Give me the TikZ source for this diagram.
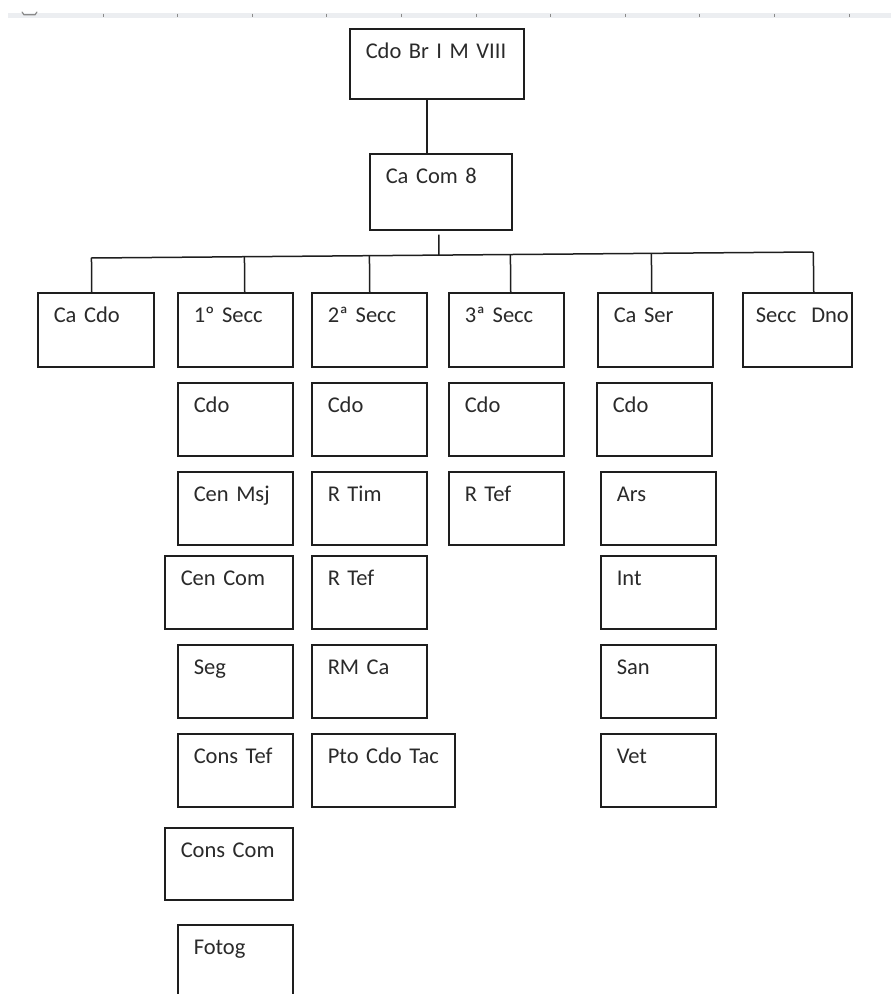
\documentclass[tikz,border=0pt]{standalone}
\usepackage{fontspec}
\setmainfont{Carlito}
\usetikzlibrary{calc}
\definecolor{inkc}{HTML}{1E1E1E}
\definecolor{textc}{HTML}{2A2A2A}
\definecolor{rulerc}{HTML}{ECEEF1}
\definecolor{tickc}{HTML}{8A8A8A}
\newcommand\boxfont{\fontsize{22.5}{27}\selectfont
  \fontdimen2\font=4.4pt\fontdimen3\font=0pt\fontdimen4\font=0pt\relax}
\begin{document}
\begin{tikzpicture}[x=1pt, y=-1pt,
  every node/.style={font=\boxfont, text=textc},
  box/.style={draw=inkc, line width=1.5pt, anchor=north west, align=left,
    inner xsep=16pt, inner ysep=14pt, text height=16pt, text depth=29pt,
    text width=83pt,
    execute at begin node={\hbox\bgroup}, execute at end node={\egroup}},
  link/.style={draw=inkc, line width=1.5pt}]
  \fill[white] (0,0) rectangle (891,994);
  \useasboundingbox (0,0) rectangle (891,994);

  % ruler strip
  \fill[rulerc] (8,13) rectangle (891,18);
  \draw[tickc, line width=1.2pt, line cap=round] (22,12) -- (24,14.8) -- (35,14.8) -- (37,12);
  \foreach \i in {0,...,10}
    \draw[tickc, line width=0.9pt] ({103+74.6*\i},13.5) -- ({103+74.6*\i},17);

  % top levels
  \node[box, text width=142pt, text depth=26pt] (cdobr) at (349,28) {Cdo Br I M VIII};
  \node[box, text width=110pt, text depth=32pt] (cacom) at (369,153) {Ca Com 8};

  % first row
  \node[box, text width=84pt, text depth=30pt] (cacdo) at (37,292) {Ca Cdo};
  \node[box, text depth=30pt] (secc1) at (177,292) {1º Secc};
  \node[box, text depth=30pt] (secc2) at (311,292) {2ª Secc};
  \node[box, text depth=30pt] (secc3) at (448,292) {3ª Secc};
  \node[box, text depth=30pt] (caser) at (597,292) {Ca Ser};
  \node[box, inner xsep=13pt, text width=83pt, text depth=30pt] (seccdno) at (742,292) {Secc\ \ Dno};

  % 1a seccion
  \node[box] (sOneCdo) at (177,382) {Cdo};
  \node[box] (sOneMsj) at (177,471) {Cen Msj};
  \node[box, text width=96pt] (sOneCom) at (164,555) {Cen Com};
  \node[box] (sOneSeg) at (177,644) {Seg};
  \node[box] (sOneTef) at (177,733) {Cons Tef};
  \node[box, text width=96pt, text depth=28pt] (sOneCons) at (164,827) {Cons Com};
  \node[box] (sOneFot) at (177,924) {Fotog};

  % 2a seccion
  \node[box] (sTwoCdo) at (311,382) {Cdo};
  \node[box] (sTwoTim) at (311,471) {R Tim};
  \node[box] (sTwoTef) at (311,555) {R Tef};
  \node[box] (sTwoRm) at (311,644) {RM Ca};
  \node[box, text width=111pt] (sTwoPto) at (311,733) {Pto Cdo Tac};

  % 3a seccion
  \node[box] (sThrCdo) at (448,382) {Cdo};
  \node[box] (sThrTef) at (448,471) {R Tef};

  % ca ser
  \node[box] (serCdo) at (596,382) {Cdo};
  \node[box] (serArs) at (600,471) {Ars};
  \node[box] (serInt) at (600,555) {Int};
  \node[box] (serSan) at (600,644) {San};
  \node[box] (serVet) at (600,733) {Vet};

  % connectors
  \draw[link] ([xshift=-10pt]cdobr.south) -- ([xshift=-10pt]cdobr.south |- cacom.north);
  \coordinate (busL) at (91,258);
  \coordinate (busR) at (813,252);
  \draw[link] (busL) -- (busR);
  \draw[link] ([shift={(-2pt,-4pt)}]cacom.south) -- ($(busL)!([shift={(-2pt,-4pt)}]cacom.south)!(busR)$);
  \foreach \n/\dx in {cacdo/-4, secc1/9.5, secc2/0.5, secc3/4.5, caser/-3.5, seccdno/16.5}
    \draw[link] ([xshift=\dx pt]\n.north) -- ($(busL)!([xshift=\dx pt]\n.north)!(busR)$);
\end{tikzpicture}
\end{document}
